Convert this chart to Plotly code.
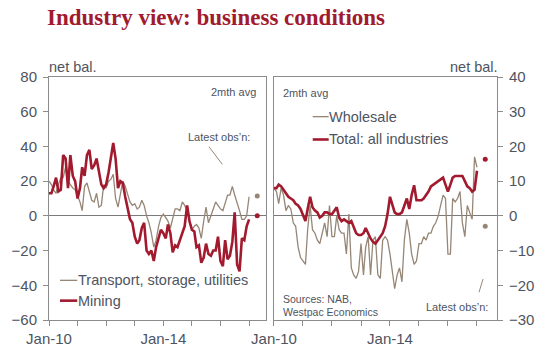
import plotly.graph_objects as go
import pandas as pd

# ---------------- data (monthly, Jan-2010 .. Jan-2017) ----------------
start_month = "2010-01-01"
n_months = 85
dates = pd.date_range(start_month, periods=n_months, freq="MS")

transport = [20, 18, 15, 13, 18, 22, 22, 28, 20, 18, 16, 15, 12, 8, 3, 17, 19, 14, 9, 8,
             13, 5, 6, 18, 16, 20, 21, 24, 10, 5, 12, 20, 17, 12, 8, 6, 7, 4, 5, 9,
             6, 0, -4, -10, -18, -14, -6, -1, 1, -1, -3, -7, -1, 4, 4, 3, 8, 6, 3, -2,
             -8, -6, -5, -7, -13, -3, 5, -4, 0, 5, 8, 6, 4, 3, 8, 12, 12, 17, 12, 8,
             3, -2, -2, 0, 11]

mining = [13, 13, 17, 22, 14, 15, 35, 33, 16, 35, 23, 20, 10, 16, 28, 23, 35, 38, 27, 29,
          33, 25, 18, 16, 18, 25, 33, 42, 33, 16, 20, 19, 11, 5, -2, -4, -12, -16, -14, -7,
          -4, -20, -22, -20, -26, -18, -13, -8, -10, -13, -5, -10, -21, -17, -18, -14, -10, -6, 6, -3,
          -8, -9, -18, -17, -27, -24, -16, -22, -23, -20, -20, -12, -26, -29, -14, -25, -23, -15, 2, -28,
          -32, -13, -14, -6, -2]

wholesale = [8, 7, 3.5, 8, 6, 1.5, 3, 2, -2, -3, -9, -12, -13, -14, -4, 3, -4, -5, -7, -8,
             -5, -2, -6, 3, -6, -6, 0, -4, -5, -5, -11, 0.5, -15, -17, -18, -16, -8, -17, -9, -6,
             -17, -7, -6, -17, -18, -7, -6, -7, -11, -17, -21, -17, -15, -19, -7, -1, -5, -11, -14, -13,
             -8, -8, -6, -7, -5, -5, -3, -2, 0, 3, 6, 5, -11, -11, 5, 4, 5, 7, -2, -6,
             3, 1, -1, 17, 14]

total = [8, 8, 9, 8.5, 7.5, 6.5, 5.5, 5, 4.5, 3.5, 3, 2, 0.5, -1.5, 2, 5.5, 2.5, 1.5, 1, -0.5,
         0, 1, 1, 0.5, 0.5, 1.5, 2.5, -0.5, -1.5, -1, -1.5, -2, -1.5, -3, -5, -5.5, -5.5, -5, -3.5, -5,
         -6.5, -7.5, -8, -7, -6, -5, -3, 0.5, 5.5, 3, 1, 0.5, 0.5, 1, 3, 5, 2, 6, 8.8, 4.5,
         4.5, 4.5, 5, 6, 7, 8.5, 9, 9.5, 10, 10.5, 11, 9, 7, 9, 11, 11.5, 11.5, 11.5, 11.5, 10,
         8.5, 8, 7, 7.5, 13]

# latest observations (plotted as dots beyond the lines)
latest_date = "2017-04-15"
latest_transport = 11.4
latest_mining = 0
latest_wholesale = -3
latest_total = 16.3

left_ticks = [-60, -40, -20, 0, 20, 40, 60, 80]
right_ticks = [-30, -20, -10, 0, 10, 20, 30, 40]
x_tick_dates = ["2010-01-01", "2014-01-01"]
x_tick_text = ["Jan-10", "Jan-14"]
year_ticks = [f"{y}-01-01" for y in range(2010, 2018)]

# ---------------- style ----------------
RED = "#A11A2E"
GREY = "#968676"
TXT = "#4E5460"
AX = "#8C8C8C"
FONT = "Liberation Sans, Arial, sans-serif"

W, H = 546, 359
ML, MR, MT, MB = 49, 48, 77, 37
PW, PH = W - ML - MR, H - MT - MB


def px(X):
    return (X - ML) / PW


def py(Y):
    return (H - MB - Y) / PH


fig = go.Figure()

fig.add_trace(go.Scatter(x=dates, y=transport, mode="lines", line=dict(color=GREY, width=1.3),
                         xaxis="x", yaxis="y", showlegend=False))
fig.add_trace(go.Scatter(x=dates, y=mining, mode="lines", line=dict(color=RED, width=2.6),
                         xaxis="x", yaxis="y", showlegend=False))
fig.add_trace(go.Scatter(x=[latest_date], y=[latest_transport], mode="markers",
                         marker=dict(color=GREY, size=5), xaxis="x", yaxis="y", showlegend=False))
fig.add_trace(go.Scatter(x=[latest_date], y=[latest_mining], mode="markers",
                         marker=dict(color=RED, size=5), xaxis="x", yaxis="y", showlegend=False))

fig.add_trace(go.Scatter(x=dates, y=wholesale, mode="lines", line=dict(color=GREY, width=1.3),
                         xaxis="x2", yaxis="y2", showlegend=False))
fig.add_trace(go.Scatter(x=dates, y=total, mode="lines", line=dict(color=RED, width=2.6),
                         xaxis="x2", yaxis="y2", showlegend=False))
fig.add_trace(go.Scatter(x=[latest_date], y=[latest_total], mode="markers",
                         marker=dict(color=RED, size=5), xaxis="x2", yaxis="y2", showlegend=False))
fig.add_trace(go.Scatter(x=[latest_date], y=[latest_wholesale], mode="markers",
                         marker=dict(color=GREY, size=5), xaxis="x2", yaxis="y2", showlegend=False))

left_end = px(266.7)
right_start = px(274.5)

xcommon = dict(type="date", showgrid=False, showline=True, linecolor=AX, linewidth=1, mirror=True,
               tickmode="array", tickvals=x_tick_dates, ticktext=x_tick_text,
               ticks="outside", ticklen=5, tickcolor=AX,
               minor=dict(tickmode="array", tickvals=year_ticks, ticks="outside", ticklen=5, tickcolor=AX),
               tickfont=dict(family=FONT, size=15, color=TXT), zeroline=False)

ycommon = dict(showgrid=False, showline=True, linecolor=AX, linewidth=1, mirror=True,
               ticks="outside", ticklen=5, tickcolor=AX,
               tickfont=dict(family=FONT, size=15, color=TXT),
               zeroline=True, zerolinecolor="#7A7A7A", zerolinewidth=1)

fig.update_layout(
    width=W, height=H,
    margin=dict(l=ML, r=MR, t=MT, b=MB),
    paper_bgcolor="white", plot_bgcolor="white",
    showlegend=False,
    hovermode=False,
    xaxis=dict(xcommon, domain=[0, left_end], range=["2010-01-01", "2017-08-08"], anchor="y"),
    yaxis=dict(ycommon, domain=[0, 1], range=[-60, 80], tickvals=left_ticks, anchor="x", side="left",
               ticklabelstandoff=3),
    xaxis2=dict(xcommon, domain=[right_start, 1], range=["2010-01-01", "2017-09-10"], anchor="y2"),
    yaxis2=dict(ycommon, domain=[0, 1], range=[-30, 40], tickvals=right_ticks, anchor="x2", side="right",
                ticklabelstandoff=3),
)

ann = []


def text(x, y, s, size, anchor="left", color=TXT, family=FONT, bold=False):
    ann.append(dict(x=px(x), y=py(y), xref="paper", yref="paper", text=(f"<b>{s}</b>" if bold else s),
                    showarrow=False, xanchor=anchor, yanchor="middle", borderpad=0,
                    font=dict(family=family, size=size, color=color)))


text(46, 17, "Industry view: business conditions", 23, color="#A11A2E",
     family="Liberation Serif, Times New Roman, serif", bold=True)
text(48, 67, "net bal.", 14.5)
text(500, 67, "net bal.", 14.5, anchor="right")
text(257, 92, "2mth avg", 11, anchor="right")
text(283, 93, "2mth avg", 11)
text(219, 137, "Latest obs’n:", 11, anchor="center")
text(458, 309, "Latest obs’n:", 11, anchor="center")
text(283, 301, "Sources: NAB,", 10.5)
text(283, 313.5, "Westpac Economics", 10.5)
text(77, 282, "Transport, storage, utilities", 14.5)
text(77, 302.5, "Mining", 14.5)
text(329, 117, "Wholesale", 14.5)
text(329, 140, "Total: all industries", 14.5)
fig.update_layout(annotations=ann)

shapes = []


def seg(x0, y0, x1, y1, color, width):
    shapes.append(dict(type="line", xref="paper", yref="paper", x0=px(x0), y0=py(y0), x1=px(x1), y1=py(y1),
                       line=dict(color=color, width=width)))


seg(209.3, 147.3, 222.7, 165, GREY, 1)
seg(484, 280.7, 480, 294, GREY, 1)
seg(60, 282, 77.3, 282, GREY, 1.3)
seg(60, 302.5, 77.3, 302.5, RED, 2.6)
seg(313.3, 117, 329.3, 117, GREY, 1.3)
seg(313.3, 140, 329.3, 140, RED, 2.6)
fig.update_layout(shapes=shapes)

fig.write_html("out.html", config={"displayModeBar": False},
               post_script="document.body.style.margin='0';")
